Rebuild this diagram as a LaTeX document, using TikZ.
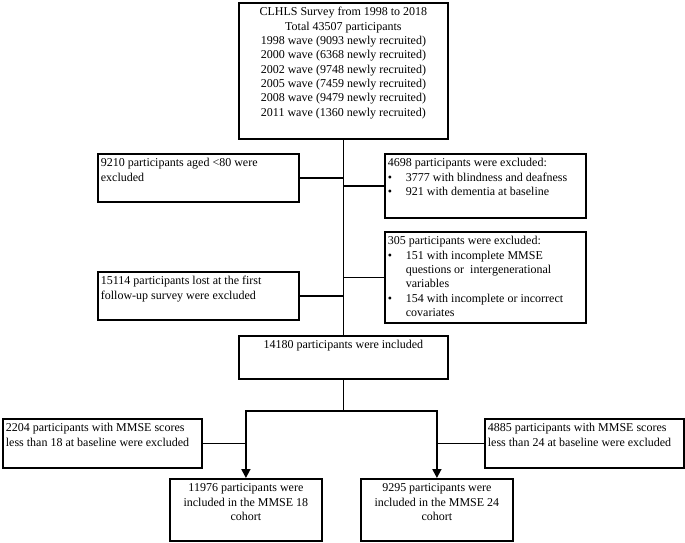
\documentclass[tikz,border=0pt]{standalone}
\usepackage{fontspec}
\setmainfont{Liberation Serif}
\usetikzlibrary{arrows.meta}

% text block of a box: width, height, top aligned
\newcommand{\boxtxt}[4][\raggedright]{\parbox[c][#3][t]{#2}{#1\strut#4}}
\newcommand{\bitem}{\makebox[18pt][l]{\textbullet}}
\newcommand{\bcont}{\hspace*{18pt}}

\begin{document}
\begin{tikzpicture}[x=1pt,y=-1pt,
		flowbox/.style={draw, line width=1.8pt, anchor=north west, inner sep=3pt,
			font=\fontsize{12}{14.3}\selectfont},
		flowline/.style={line width=1.8pt, line cap=rect},
		flowarrow/.style={line width=1.8pt, -{Triangle[width=9pt,length=9pt]}}]
	\useasboundingbox (0,0) rectangle (685,543);

	% survey
	\node[flowbox] (survey) at (238,2) {\boxtxt[\centering]{203pt}{130pt}{CLHLS Survey from 1998 to 2018\\
		Total 43507 participants\\
		1998 wave (9093 newly recruited)\\
		2000 wave (6368 newly recruited)\\
		2002 wave (9748 newly recruited)\\
		2005 wave (7459 newly recruited)\\
		2008 wave (9479 newly recruited)\\
		2011 wave (1360 newly recruited)}};

	% exclusions
	\node[flowbox] (age) at (97,153) {\boxtxt{195pt}{42pt}{9210 participants aged <80 were\\ excluded}};
	\node[flowbox] (sense) at (384,153) {\boxtxt{195pt}{58pt}{4698 participants were excluded:\\
		\bitem 3777 with blindness and deafness\\
		\bitem 921 with dementia at baseline}};
	\node[flowbox] (incomp) at (384,231) {\boxtxt{195pt}{85pt}{305 participants were excluded:\\
		\bitem 151 with incomplete MMSE\\
		\bcont questions or\ \ intergenerational\\
		\bcont variables\\
		\bitem 154 with incomplete or incorrect\\
		\bcont covariates}};
	\node[flowbox] (lost) at (97,271) {\boxtxt{195pt}{42pt}{15114 participants lost at the first\\ follow-up survey were excluded}};

	% included
	\node[flowbox] (incl) at (238,335) {\boxtxt[\centering]{203pt}{37pt}{14180 participants were included}};

	% MMSE cut-offs
	\node[flowbox] (exA) at (2,418) {\boxtxt{193pt}{43pt}{2204 participants with MMSE scores\\ less than 18 at baseline were excluded}};
	\node[flowbox] (exB) at (484,418) {\boxtxt{193pt}{43pt}{4885 participants with MMSE scores\\ less than 24 at baseline were excluded}};

	% cohorts
	\node[flowbox] (cohA) at (169,478) {\boxtxt[\centering]{146pt}{56pt}{11976 participants were\\ included in the MMSE 18\\ cohort}};
	\node[flowbox] (cohB) at (360,478) {\boxtxt[\centering]{146pt}{56pt}{9295 participants were\\ included in the MMSE 24\\ cohort}};

	%% connectors %%
	\draw[flowline] (survey.south) -- (incl.north);
	\draw[flowline] (age.east) -- (age.east -| survey.south);
	\draw[flowline] (sense.west) -- (sense.west -| survey.south);
	\draw[flowline] (incomp.west) -- (incomp.west -| survey.south);
	\draw[flowline] (lost.east) -- (lost.east -| survey.south);

	\coordinate (split) at (incl.south |- 0,411);
	\coordinate (splitA) at (cohA.north |- split);
	\coordinate (splitB) at (cohB.north |- split);
	\draw[flowline] (incl.south) -- (split);
	\draw[flowline] (splitA) -- (splitB);
	\draw[flowarrow] (splitA) -- (cohA.north);
	\draw[flowarrow] (splitB) -- (cohB.north);
	\draw[flowline] (exA.east) -- (exA.east -| splitA);
	\draw[flowline] (exB.west) -- (exB.west -| splitB);
\end{tikzpicture}
\end{document}
